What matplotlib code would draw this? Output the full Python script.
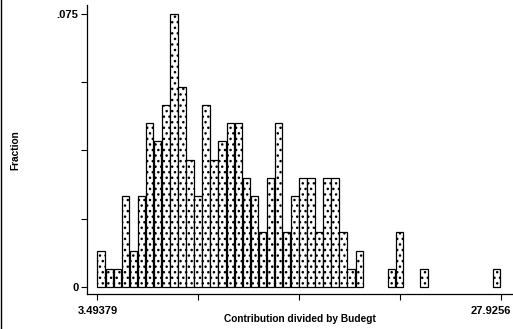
import matplotlib
matplotlib.use("Agg")
import matplotlib.pyplot as plt
from matplotlib.lines import Line2D

# ---- data ----
x_min = 3.49379
x_max = 27.9256
n_bins = 50
# fraction of observations in each bin (N = 200)
fractions = [0.010, 0.005, 0.005, 0.025, 0.010, 0.025, 0.045, 0.040, 0.050, 0.075,
             0.055, 0.035, 0.025, 0.050, 0.035, 0.040, 0.045, 0.045, 0.030, 0.025,
             0.015, 0.030, 0.045, 0.015, 0.025, 0.030, 0.030, 0.015, 0.030, 0.030,
             0.015, 0.005, 0.010, 0.000, 0.000, 0.000, 0.005, 0.015, 0.000, 0.000,
             0.005, 0.000, 0.000, 0.000, 0.000, 0.000, 0.000, 0.000, 0.000, 0.005]
y_tick_labels = {0.0: "0", 0.075: ".075"}
x_tick_labels = ["3.49379", "27.9256"]
x_label = "Contribution divided by Budegt"
y_label = "Fraction"

plt.rcParams["hatch.color"] = "black"
plt.rcParams["hatch.linewidth"] = 1.0
tick_font = {"family": "Liberation Sans", "weight": "bold", "size": 8}
lab_font = {"family": "Liberation Sans", "weight": "bold", "size": 7.3}

fig = plt.figure(figsize=(5.13, 3.29), dpi=100)
ax = fig.add_axes([0.169, 0.1064, 0.831, 0.8784])

bw = (x_max - x_min) / n_bins
lefts = [x_min + i * bw for i in range(n_bins)]
xs = [l for l, f in zip(lefts, fractions) if f > 0]
hs = [f for f in fractions if f > 0]
ax.bar(xs, hs, width=bw * 0.93, align="edge", facecolor="white",
       edgecolor="black", linewidth=0.9, hatch="...")

ax.set_xlim(2.8394, 28.671)
ax.set_ylim(-0.001923, 0.07747)

for s in ["top", "right"]:
    ax.spines[s].set_visible(False)
for s in ["left", "bottom"]:
    ax.spines[s].set_linewidth(0.9)

xt = [x_min + k * (x_max - x_min) / 4 for k in range(5)]
ax.set_xticks(xt)
ax.set_xticklabels([""] * len(xt))
yt = [k * 0.075 / 4 for k in range(5)]
ax.set_yticks(yt)
ax.set_yticklabels([y_tick_labels.get(round(v, 5), "") for v in yt], **tick_font)
ax.tick_params(axis="both", direction="out", length=4, width=0.8, pad=2)

trans = ax.get_xaxis_transform()
ax.text(x_min, -0.04, x_tick_labels[0], transform=trans, ha="center", va="top", **tick_font)
ax.text(x_max, -0.04, x_tick_labels[1], transform=trans, ha="right", va="top", **tick_font)
# x_max label is shifted so that it stays inside the figure as in the reference
for t in ax.texts[-1:]:
    t.set_x(x_max + 0.6)

fig.text(0.585, 0.030, x_label, ha="center", va="center", **lab_font)
fig.text(0.029, 0.544, y_label, rotation=90, ha="center", va="center", **lab_font)

fig.add_artist(Line2D([0.002, 0.002], [0.0, 1.0], color="black", linewidth=1.0))

fig.savefig("out.png", dpi=100)
